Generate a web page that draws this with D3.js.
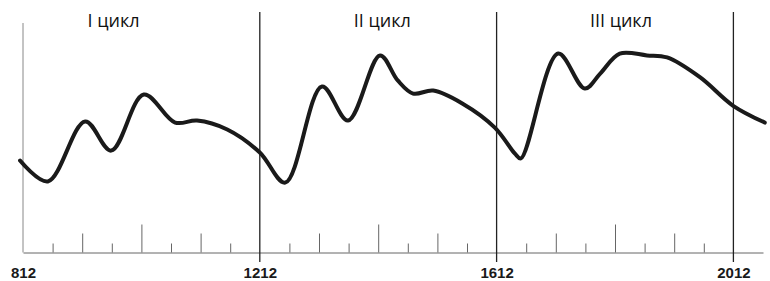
<!DOCTYPE html>
<html>
<head>
<meta charset="utf-8">
<script src="https://cdn.jsdelivr.net/npm/d3@7"></script>
<style>
  body { margin: 0; background: #fff; }
  svg { display: block; }
  .axis path, .axis line { stroke: #666; }
  .axis text { font-family: "Liberation Sans", Arial, sans-serif; font-size: 15px; font-weight: bold; fill: #1a1a1a; }
</style>
</head>
<body>
<svg id="chart"></svg>
<script>
// curve (year, level)
const years  = [807, 854, 917, 961, 1016, 1069, 1106, 1157, 1212, 1255, 1317, 1361, 1415, 1445, 1471, 1505, 1554, 1609, 1643, 1653, 1716, 1761, 1787, 1820, 1866, 1900, 1956, 2011, 2065];
const levels = [40, 30.9, 57, 44.3, 68.7, 56.5, 57.4, 53.5, 43.5, 30.4, 72.2, 57.4, 85.7, 74.8, 69.1, 70.4, 64.8, 54.3, 43, 40.9, 86.5, 71.3, 77.8, 86.5, 85.7, 84.8, 76.1, 63.9, 56.5];

const labelYears  = [812, 1212, 1612, 2012];
const cycleLines  = [1212, 1612, 2012];
const smallTicks  = [862, 962, 1062, 1162, 1262, 1362, 1462, 1562, 1662, 1762, 1862, 1962];
const mediumTicks = [912, 1112, 1312, 1512, 1712, 1912];
const bigTicks    = [1012, 1412, 1812];
const cycles      = ["I цикл", "II цикл", "III цикл"];
const cycleMid    = [965, 1419, 1822];

const width = 770, height = 281;
const baseY = 252.5;

const svg = d3.select("#chart")
  .attr("width", width)
  .attr("height", height);

const x = d3.scaleLinear().domain([812, 2062]).range([23, 763]);
const y = d3.scaleLinear().domain([0, 100]).range([baseY, 22.5]);

// ticks going up from the base line
[[smallTicks, 9], [mediumTicks, 19], [bigTicks, 28]].forEach(([vals, size]) => {
  svg.append("g")
    .attr("class", "axis")
    .attr("transform", `translate(0,${baseY})`)
    .call(d3.axisBottom(x).tickValues(vals).tickSize(-size).tickSizeOuter(0).tickFormat(""))
    .call(g => g.select(".domain").remove());
});

// base line + year labels
svg.append("g")
  .attr("class", "axis")
  .attr("transform", `translate(0,${baseY})`)
  .call(d3.axisBottom(x).tickValues(labelYears).tickSize(0).tickSizeOuter(0).tickPadding(15).tickFormat(d3.format("d")))
  .call(g => g.select(".domain").attr("stroke", "#555"));

// left line at 812
svg.append("line")
  .attr("x1", x(812)).attr("x2", x(812))
  .attr("y1", 23).attr("y2", baseY)
  .attr("stroke", "#888")
  .attr("stroke-width", 1);

// cycle borders
svg.selectAll(".cycle-line")
  .data(cycleLines)
  .join("line")
  .attr("class", "cycle-line")
  .attr("x1", d => x(d)).attr("x2", d => x(d))
  .attr("y1", 12).attr("y2", 262)
  .attr("stroke", "#222")
  .attr("stroke-width", 1.3);

svg.selectAll(".cycle-label")
  .data(cycles)
  .join("text")
  .attr("class", "cycle-label")
  .attr("x", (d, i) => x(cycleMid[i]))
  .attr("y", 27)
  .attr("text-anchor", "middle")
  .attr("font-family", "'Open Sans', sans-serif")
  .attr("font-size", "18px")
  .attr("fill", "#111")
  .text(d => d);

const data = years.map((yr, i) => ({year: yr, level: levels[i]}));

const line = d3.line()
  .x(d => x(d.year))
  .y(d => y(d.level))
  .curve(d3.curveCatmullRom.alpha(0.5));

svg.append("path")
  .datum(data)
  .attr("fill", "none")
  .attr("stroke", "#1a1a1a")
  .attr("stroke-width", 4)
  .attr("stroke-linejoin", "round")
  .attr("stroke-linecap", "round")
  .attr("d", line);
</script>
</body>
</html>
